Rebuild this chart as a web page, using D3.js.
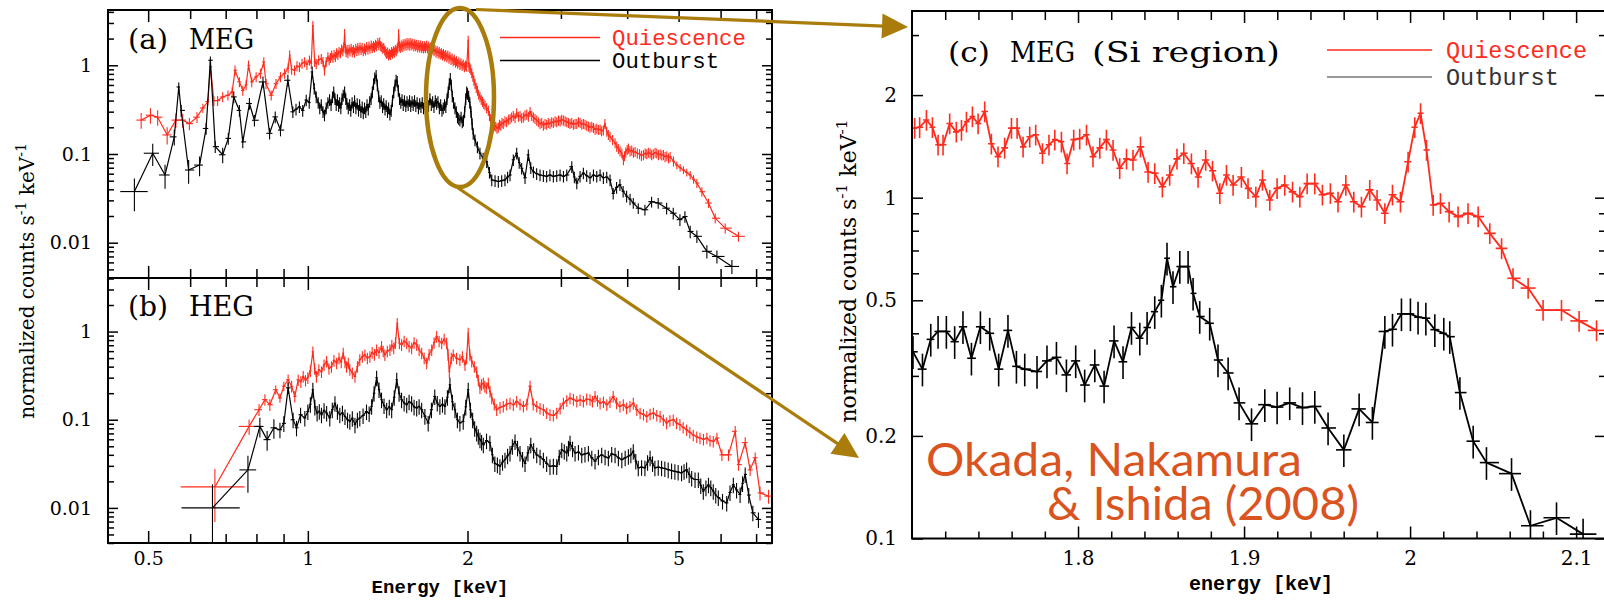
<!DOCTYPE html>
<html><head><meta charset="utf-8">
<script src="https://cdn.jsdelivr.net/npm/d3@7"></script>
<style>body{margin:0;background:#fff} svg{display:block}</style>
</head><body>
<svg id="fig" width="1604" height="600"></svg>
<script>
// Spectra: [energy keV, normalized counts s^-1 keV^-1, optional fractional error, optional bin half-width keV]
const megQuies = [[0.485,0.241,0.2],[0.505,0.274,0.2],[0.521,0.26,0.2],[0.543,0.164,0.22],[0.564,0.241,0.18],[0.581,0.241,0.18],[0.598,0.22,0.16],[0.618,0.26,0.14],[0.634,0.33,0.12],[0.648,0.39,0.1],[0.655,0.96,0.1],[0.665,0.40],[0.676,0.40],[0.691,0.44],[0.707,0.46],[0.72,0.50],[0.729,0.88],[0.743,0.65],[0.754,0.52],[0.765,0.60],[0.773,1.0],[0.784,0.65],[0.799,0.74],[0.814,0.81],[0.826,1.09],[0.834,0.62],[0.853,0.46],[0.871,0.62],[0.888,0.74],[0.904,0.81],[0.918,0.93],[0.924,1.30],[0.932,0.90],[0.944,0.88],[0.954,0.98],[0.964,0.96],[0.975,1.05],[0.986,1.09],[0.996,1.02],[1.007,1.14],[1.015,1.05],[1.022,2.8],[1.03,1.1],[1.037,1.04],[1.048,1.15],[1.06,1.19],[1.068,1.1],[1.075,0.88],[1.083,1.1],[1.091,1.24],[1.097,1.15],[1.103,1.22],[1.109,1.3],[1.115,1.22],[1.121,1.32],[1.127,1.25],[1.133,1.38],[1.139,1.32],[1.145,1.42],[1.152,1.38],[1.158,1.52],[1.164,1.45],[1.169,1.6],[1.173,2.27],[1.177,1.55],[1.181,1.42],[1.186,1.5],[1.19,1.38],[1.196,1.52],[1.201,1.44],[1.207,1.55],[1.213,1.42],[1.219,1.5],[1.225,1.4],[1.231,1.55],[1.237,1.46],[1.242,1.58],[1.248,1.48],[1.254,1.6],[1.26,1.5],[1.266,1.58],[1.272,1.45],[1.279,1.55],[1.285,1.48],[1.291,1.62],[1.298,1.52],[1.304,1.64],[1.31,1.55],[1.317,1.68],[1.323,1.58],[1.33,1.66],[1.336,1.6],[1.342,1.72],[1.348,1.65],[1.355,1.8],[1.361,1.7],[1.366,1.82],[1.372,1.66],[1.378,1.62],[1.384,1.55],[1.39,1.58],[1.396,1.48],[1.402,1.42],[1.408,1.35],[1.414,1.4],[1.42,1.3],[1.426,1.36],[1.432,1.32],[1.438,1.42],[1.444,1.36],[1.45,1.45],[1.456,1.4],[1.462,1.5],[1.468,1.45],[1.474,1.55],[1.479,1.6],[1.483,2.27],[1.488,1.65],[1.494,1.58],[1.5,1.68],[1.506,1.62],[1.512,1.74],[1.518,1.66],[1.525,1.76],[1.531,1.68],[1.538,1.8],[1.544,1.7],[1.551,1.78],[1.557,1.68],[1.564,1.8],[1.57,1.7],[1.577,1.76],[1.584,1.64],[1.59,1.74],[1.597,1.66],[1.604,1.72],[1.611,1.6],[1.618,1.7],[1.625,1.6],[1.632,1.68],[1.639,1.58],[1.646,1.66],[1.653,1.56],[1.66,1.65],[1.667,1.58],[1.675,1.68],[1.682,1.56],[1.69,1.64],[1.697,1.55],[1.705,1.6],[1.713,1.5],[1.721,1.55],[1.729,1.45],[1.737,1.5],[1.745,1.4],[1.753,1.46],[1.761,1.37],[1.769,1.42],[1.777,1.34],[1.786,1.38],[1.794,1.3],[1.802,1.35],[1.811,1.27],[1.819,1.32],[1.828,1.24],[1.836,1.3],[1.845,1.2],[1.853,1.26],[1.862,1.16],[1.871,1.2],[1.88,1.12],[1.889,1.16],[1.898,1.08],[1.907,1.12],[1.916,1.05],[1.926,1.09],[1.935,1.02],[1.944,1.06],[1.954,0.99],[1.963,1.03],[1.973,0.96],[1.983,1.0],[1.993,0.97],[2.006,1.91],[2.012,0.97],[2.02,0.94],[2.028,0.9],[2.037,0.82],[2.047,0.75],[2.056,0.68],[2.066,0.62],[2.077,0.56],[2.088,0.52],[2.099,0.47],[2.111,0.44],[2.123,0.41],[2.135,0.39],[2.146,0.37],[2.158,0.355],[2.173,0.33],[2.189,0.31],[2.2,0.27],[2.212,0.25],[2.224,0.22],[2.236,0.20],[2.249,0.21],[2.261,0.205],[2.273,0.195],[2.286,0.20],[2.298,0.215],[2.311,0.21],[2.323,0.225],[2.336,0.22],[2.353,0.235],[2.37,0.23],[2.388,0.245],[2.405,0.25],[2.422,0.26],[2.44,0.27],[2.458,0.255],[2.476,0.29],[2.494,0.265],[2.512,0.27],[2.53,0.255],[2.549,0.26],[2.567,0.275],[2.586,0.28],[2.605,0.265],[2.624,0.30],[2.643,0.27],[2.662,0.26],[2.681,0.25],[2.701,0.24],[2.72,0.23],[2.74,0.22],[2.76,0.225],[2.78,0.21],[2.8,0.22],[2.82,0.215],[2.84,0.225],[2.861,0.22],[2.882,0.23],[2.903,0.225],[2.925,0.235],[2.946,0.23],[2.968,0.24],[2.989,0.235],[3.01,0.245],[3.032,0.24],[3.055,0.235],[3.077,0.23],[3.099,0.225],[3.121,0.22],[3.144,0.225],[3.167,0.215],[3.19,0.22],[3.214,0.22],[3.237,0.23],[3.26,0.225],[3.284,0.215],[3.307,0.22],[3.331,0.215],[3.355,0.21],[3.38,0.205],[3.404,0.20],[3.43,0.205],[3.455,0.198],[3.48,0.19],[3.505,0.194],[3.53,0.188],[3.556,0.19],[3.58,0.182],[3.607,0.186],[3.631,0.22],[3.66,0.18],[3.686,0.165],[3.713,0.157],[3.754,0.145],[3.795,0.133],[3.822,0.122],[3.85,0.115],[3.878,0.108],[3.908,0.102],[3.935,0.086],[3.955,0.095],[3.975,0.105],[4.0,0.112],[4.021,0.116],[4.05,0.108],[4.08,0.11],[4.11,0.104],[4.14,0.106],[4.18,0.102],[4.22,0.1],[4.255,0.096],[4.292,0.098],[4.325,0.102],[4.355,0.1],[4.385,0.104],[4.418,0.102],[4.448,0.098],[4.48,0.1],[4.515,0.104],[4.548,0.102],[4.58,0.098],[4.615,0.1],[4.648,0.097],[4.681,0.098],[4.715,0.093],[4.75,0.095],[4.785,0.09],[4.819,0.093],[4.89,0.083],[4.962,0.075,0.1],[5.034,0.07,0.1],[5.107,0.066,0.1],[5.18,0.062,0.1],[5.258,0.058,0.11],[5.335,0.052,0.11],[5.413,0.047,0.12],[5.532,0.0376,0.12],[5.693,0.028,0.12],[5.861,0.0189,0.13],[6.121,0.0146,0.13],[6.484,0.0118,0.13]];

const megOut = [[0.471,0.0377,0.4,0.028],[0.51,0.102,0.28],[0.538,0.058,0.3],[0.56,0.156,0.2],[0.571,0.57,0.12],[0.577,0.31,0.15],[0.596,0.066,0.3],[0.625,0.075,0.25],[0.643,0.194,0.15],[0.655,1.14,0.1],[0.669,0.121,0.15],[0.691,0.098,0.2],[0.708,0.15,0.15],[0.725,0.44],[0.743,0.31],[0.754,0.137,0.15],[0.776,0.371],[0.793,0.24],[0.823,0.649],[0.847,0.171],[0.868,0.262],[0.888,0.186],[0.917,0.678],[0.937,0.299],[0.95,0.32],[0.964,0.34],[0.978,0.31],[0.993,0.406],[1.006,0.38],[1.019,0.841],[1.028,0.55],[1.037,0.44],[1.046,0.38],[1.053,0.33],[1.06,0.36],[1.068,0.3],[1.075,0.275],[1.083,0.33],[1.091,0.38],[1.099,0.41],[1.106,0.36],[1.113,0.44],[1.119,0.5],[1.125,0.42],[1.131,0.36],[1.137,0.41],[1.143,0.35],[1.148,0.38],[1.154,0.33],[1.16,0.42],[1.166,0.46],[1.173,0.501],[1.179,0.42],[1.185,0.37],[1.192,0.33],[1.199,0.36],[1.205,0.31],[1.212,0.38],[1.219,0.34],[1.225,0.40],[1.232,0.33],[1.239,0.37],[1.246,0.31],[1.252,0.36],[1.259,0.3],[1.266,0.34],[1.272,0.29],[1.279,0.33],[1.286,0.3],[1.293,0.36],[1.3,0.32],[1.308,0.39],[1.316,0.42],[1.323,0.5],[1.33,0.62],[1.337,0.72],[1.345,0.77],[1.352,0.6],[1.36,0.45],[1.367,0.38],[1.375,0.40],[1.383,0.34],[1.39,0.37],[1.398,0.32],[1.405,0.35],[1.413,0.3],[1.42,0.33],[1.428,0.28],[1.436,0.31],[1.444,0.4],[1.452,0.5],[1.46,0.6],[1.467,0.68],[1.474,0.66],[1.481,0.52],[1.489,0.42],[1.497,0.38],[1.505,0.41],[1.513,0.36],[1.521,0.4],[1.53,0.35],[1.538,0.39],[1.546,0.36],[1.555,0.4],[1.563,0.35],[1.572,0.39],[1.58,0.36],[1.589,0.4],[1.598,0.35],[1.607,0.38],[1.616,0.33],[1.625,0.37],[1.634,0.34],[1.643,0.38],[1.652,0.33],[1.661,0.37],[1.67,0.34],[1.68,0.38],[1.689,0.35],[1.699,0.42],[1.709,0.36],[1.719,0.39],[1.729,0.34],[1.739,0.4],[1.749,0.37],[1.759,0.39],[1.77,0.33],[1.78,0.36],[1.79,0.31],[1.8,0.33],[1.81,0.36],[1.82,0.34],[1.83,0.42],[1.839,0.5],[1.848,0.62],[1.856,0.71],[1.864,0.6],[1.872,0.45],[1.882,0.38],[1.894,0.33],[1.905,0.3],[1.915,0.26],[1.925,0.25],[1.935,0.24],[1.945,0.26],[1.955,0.23],[1.965,0.24],[1.975,0.3],[1.985,0.42],[1.993,0.5],[2.0,0.48],[2.01,0.45],[2.02,0.38],[2.03,0.3],[2.04,0.22],[2.05,0.17],[2.066,0.144],[2.088,0.12],[2.111,0.102],[2.14,0.09],[2.174,0.082],[2.2,0.062],[2.222,0.051],[2.254,0.05],[2.286,0.049],[2.32,0.05],[2.353,0.051],[2.38,0.055],[2.405,0.058],[2.44,0.086],[2.476,0.102],[2.503,0.08],[2.53,0.069],[2.567,0.054],[2.604,0.098],[2.632,0.07],[2.662,0.063],[2.7,0.06],[2.74,0.058],[2.78,0.057],[2.82,0.056],[2.86,0.058],[2.903,0.056],[2.946,0.057],[2.989,0.058],[3.033,0.056],[3.077,0.058],[3.145,0.072],[3.18,0.055],[3.214,0.047],[3.26,0.056],[3.307,0.061],[3.355,0.057],[3.404,0.054],[3.455,0.058],[3.505,0.056],[3.556,0.058],[3.607,0.054],[3.66,0.055],[3.713,0.051],[3.764,0.036],[3.82,0.042],[3.876,0.045],[3.93,0.038],[3.99,0.0335],[4.05,0.031],[4.107,0.028,0.14],[4.197,0.0245,0.14],[4.32,0.0235,0.14],[4.447,0.029,0.14],[4.576,0.028,0.14],[4.747,0.0245,0.15],[4.885,0.0215,0.15],[5.029,0.0182,0.15],[5.139,0.0197,0.15],[5.258,0.0134,0.16],[5.413,0.0118,0.16],[5.653,0.0080,0.17],[5.905,0.0070,0.17],[6.302,0.0054,0.18]];

const hegQuies = [[0.668,0.0173,0.6,0.092],[0.775,0.084,0.2,0.034],[0.809,0.130,0.15],[0.83,0.169,0.15],[0.848,0.148,0.15],[0.87,0.219,0.12],[0.886,0.177,0.12],[0.901,0.24,0.12],[0.918,0.284],[0.932,0.24],[0.945,0.184],[0.959,0.284],[0.97,0.27],[0.98,0.31],[0.99,0.28],[1.0,0.30],[1.011,0.36],[1.022,0.59],[1.03,0.38],[1.038,0.31],[1.049,0.37],[1.061,0.35],[1.073,0.42],[1.085,0.46],[1.096,0.38],[1.108,0.40],[1.12,0.47],[1.133,0.44],[1.145,0.5],[1.156,0.45],[1.166,0.57],[1.175,0.45],[1.183,0.40],[1.192,0.44],[1.2,0.37],[1.213,0.34],[1.227,0.31],[1.24,0.4],[1.253,0.48],[1.267,0.52],[1.281,0.545],[1.295,0.5],[1.309,0.52],[1.322,0.58],[1.335,0.55],[1.348,0.62],[1.362,0.58],[1.377,0.68],[1.387,0.6],[1.397,0.545],[1.412,0.6],[1.428,0.62],[1.44,0.7],[1.452,0.65],[1.463,0.75],[1.474,1.24],[1.488,0.74],[1.502,0.71],[1.519,0.78],[1.536,0.74],[1.552,0.68],[1.569,0.65],[1.586,0.75],[1.604,0.71],[1.621,0.62],[1.639,0.57],[1.657,0.5],[1.675,0.44],[1.693,0.55],[1.712,0.62],[1.73,0.75],[1.749,0.88],[1.768,0.78],[1.788,0.74],[1.807,0.82],[1.827,0.74],[1.838,0.55],[1.848,0.35],[1.864,0.5],[1.88,0.545],[1.907,0.5],[1.935,0.48],[1.956,0.52],[1.978,0.42],[1.992,0.5],[2.006,0.96],[2.02,0.55],[2.037,0.46],[2.06,0.4],[2.081,0.35],[2.096,0.28],[2.111,0.23],[2.126,0.25],[2.142,0.26],[2.156,0.24],[2.17,0.23],[2.189,0.26],[2.205,0.21],[2.222,0.176],[2.246,0.15],[2.27,0.130],[2.303,0.138],[2.336,0.142],[2.37,0.15],[2.405,0.154],[2.44,0.148],[2.476,0.162],[2.512,0.15],[2.549,0.142],[2.587,0.15],[2.624,0.24],[2.66,0.15],[2.701,0.142],[2.74,0.135],[2.78,0.130],[2.82,0.12],[2.861,0.114],[2.903,0.112],[2.946,0.119],[2.99,0.135],[3.032,0.154],[3.077,0.165],[3.121,0.176],[3.167,0.17],[3.214,0.162],[3.26,0.168],[3.307,0.162],[3.355,0.172],[3.404,0.169],[3.44,0.162],[3.479,0.184],[3.516,0.165],[3.556,0.154],[3.608,0.16],[3.661,0.148],[3.712,0.16],[3.764,0.184],[3.82,0.155],[3.876,0.142],[3.933,0.148],[3.99,0.136],[4.048,0.142],[4.107,0.154],[4.17,0.13],[4.231,0.119],[4.293,0.115],[4.355,0.109],[4.418,0.116],[4.482,0.119],[4.548,0.112],[4.614,0.109],[4.68,0.1],[4.747,0.092],[4.815,0.098],[4.885,0.100],[4.957,0.092],[5.029,0.088],[5.1,0.082],[5.177,0.077],[5.25,0.072],[5.329,0.067],[5.41,0.064],[5.486,0.062],[5.57,0.06],[5.653,0.062],[5.73,0.058],[5.812,0.057],[5.905,0.062],[6.034,0.040],[6.209,0.040],[6.393,0.074],[6.484,0.031],[6.676,0.055],[6.82,0.027],[6.972,0.037],[7.12,0.0148,0.18],[7.388,0.0136,0.18]];

const hegOut = [[0.661,0.010,0.85,0.083],[0.771,0.027,0.45,0.028],[0.812,0.084,0.25],[0.838,0.0595,0.25],[0.863,0.081,0.25],[0.886,0.077,0.2],[0.901,0.091,0.2],[0.918,0.23,0.15],[0.938,0.10,0.2],[0.952,0.081,0.2],[0.969,0.114],[0.987,0.105],[1.0,0.124],[1.011,0.15],[1.022,0.219],[1.031,0.14],[1.041,0.119],[1.051,0.125],[1.061,0.114],[1.073,0.128],[1.085,0.119],[1.1,0.105],[1.112,0.13],[1.125,0.154],[1.137,0.125],[1.149,0.114],[1.162,0.12],[1.175,0.109],[1.188,0.1],[1.2,0.096],[1.213,0.104],[1.227,0.088],[1.24,0.1],[1.253,0.105],[1.271,0.112],[1.29,0.124],[1.305,0.118],[1.319,0.142],[1.333,0.2],[1.348,0.30],[1.362,0.22],[1.377,0.169],[1.392,0.145],[1.408,0.130],[1.424,0.14],[1.439,0.130],[1.455,0.18],[1.471,0.284],[1.486,0.2],[1.502,0.169],[1.519,0.155],[1.536,0.148],[1.552,0.16],[1.569,0.154],[1.586,0.14],[1.604,0.136],[1.621,0.142],[1.639,0.130],[1.662,0.11],[1.686,0.092],[1.71,0.13],[1.735,0.184],[1.754,0.155],[1.774,0.142],[1.794,0.15],[1.813,0.142],[1.833,0.18],[1.853,0.249],[1.873,0.16],[1.894,0.130],[1.914,0.1],[1.935,0.092],[1.963,0.096],[1.985,0.14],[2.006,0.219],[2.025,0.13],[2.045,0.10],[2.063,0.08],[2.081,0.071],[2.096,0.065],[2.111,0.0595],[2.126,0.056],[2.142,0.052],[2.172,0.058],[2.204,0.055],[2.228,0.04],[2.252,0.032],[2.277,0.031],[2.302,0.0296],[2.328,0.033],[2.353,0.0353],[2.38,0.039],[2.405,0.042],[2.43,0.05],[2.458,0.0568],[2.485,0.048],[2.512,0.042],[2.54,0.036],[2.567,0.032],[2.6,0.042],[2.632,0.052],[2.665,0.045],[2.701,0.040],[2.74,0.038],[2.78,0.0353],[2.82,0.032],[2.861,0.0296],[2.903,0.03],[2.946,0.0296],[2.978,0.038],[3.011,0.0458],[3.044,0.044],[3.077,0.042],[3.1,0.048],[3.121,0.055],[3.155,0.047],[3.19,0.042],[3.237,0.043],[3.284,0.040],[3.33,0.041],[3.38,0.042],[3.43,0.037],[3.479,0.034],[3.53,0.038],[3.581,0.040],[3.634,0.038],[3.686,0.037],[3.74,0.041],[3.795,0.040],[3.85,0.037],[3.908,0.0353],[3.965,0.037],[4.021,0.0385],[4.064,0.04],[4.107,0.044],[4.152,0.034],[4.197,0.0285],[4.258,0.029],[4.32,0.0285],[4.37,0.033],[4.418,0.037],[4.465,0.032],[4.511,0.0285],[4.577,0.029],[4.644,0.0285],[4.71,0.028],[4.779,0.0272],[4.85,0.0265],[4.92,0.026],[4.99,0.0255],[5.065,0.025],[5.12,0.026],[5.177,0.0272],[5.235,0.024],[5.292,0.0218],[5.37,0.021],[5.447,0.021],[5.505,0.018],[5.566,0.0155],[5.63,0.017],[5.693,0.0183],[5.75,0.017],[5.812,0.0155],[5.875,0.014],[5.941,0.0131],[6.05,0.012],[6.161,0.0114],[6.25,0.015],[6.341,0.0183],[6.43,0.016],[6.53,0.0142],[6.6,0.019],[6.676,0.024],[6.78,0.014],[6.901,0.0088,0.2],[7.071,0.0074,0.2]];

// Si region, MEG
const siQuies = [[1.7016,1.60],[1.7046,1.61],[1.7087,1.69],[1.7123,1.61],[1.7157,1.43],[1.7187,1.43],[1.7227,1.65],[1.7267,1.56],[1.7298,1.58],[1.7328,1.67],[1.7364,1.73],[1.7398,1.65],[1.7438,1.79],[1.7478,1.44],[1.7518,1.32],[1.7558,1.40],[1.7599,1.60],[1.7633,1.60],[1.7669,1.41],[1.7709,1.51],[1.7745,1.53],[1.7786,1.35],[1.7825,1.43],[1.786,1.48],[1.79,1.46],[1.7934,1.26],[1.7974,1.48],[1.801,1.49],[1.8051,1.53],[1.809,1.32],[1.8131,1.40],[1.8171,1.48],[1.8211,1.38],[1.8251,1.22],[1.8292,1.30],[1.8331,1.29],[1.8376,1.41],[1.8422,1.19],[1.8462,1.18],[1.8508,1.077],[1.8552,1.166],[1.8596,1.30],[1.8637,1.35],[1.8683,1.26],[1.8723,1.15],[1.8769,1.29],[1.881,1.20],[1.8854,1.03],[1.8894,1.166],[1.8934,1.09],[1.8984,1.15],[1.9024,1.065],[1.9071,1.007],[1.9111,1.127],[1.9155,0.985],[1.9199,1.065],[1.9245,1.09],[1.9292,1.04],[1.9336,1.007],[1.938,1.10],[1.9426,1.10],[1.9472,1.02],[1.952,1.03],[1.9566,0.973],[1.9613,1.09],[1.9661,0.973],[1.9707,0.941],[1.9757,1.054],[1.9801,0.985],[1.9848,0.90],[1.9894,1.02],[1.9942,0.973],[1.9988,1.275],[2.0028,1.61],[2.0063,1.77],[2.0099,1.38],[2.0139,0.952],[2.0183,0.963],[2.0235,0.91],[2.0289,0.88],[2.0349,0.90],[2.041,0.88],[2.048,0.786],[2.0551,0.71],[2.062,0.58],[2.0711,0.543],[2.0801,0.468],[2.0912,0.468],[2.1018,0.435],[2.1123,0.408]];

const siOut = [[1.7006,0.353],[1.7063,0.314],[1.7113,0.384],[1.7157,0.405],[1.7207,0.405],[1.7257,0.378],[1.7307,0.418],[1.7358,0.338],[1.7412,0.418],[1.7468,0.40],[1.7522,0.314],[1.7578,0.408],[1.7629,0.32],[1.7679,0.314],[1.7753,0.309],[1.7813,0.332],[1.787,0.34],[1.793,0.302],[1.7986,0.332],[1.804,0.282],[1.8101,0.323],[1.8157,0.28],[1.8217,0.38],[1.8271,0.33],[1.8322,0.416],[1.8372,0.387],[1.8416,0.416],[1.8462,0.463],[1.8502,0.50],[1.8536,0.664],[1.8572,0.548],[1.8613,0.628],[1.8663,0.628],[1.8693,0.524],[1.8733,0.448],[1.8793,0.428],[1.8843,0.334],[1.8904,0.306],[1.897,0.25],[1.9045,0.217],[1.9125,0.247],[1.9199,0.243],[1.9275,0.25],[1.9352,0.242],[1.9426,0.244],[1.9506,0.211],[1.9601,0.182],[1.9693,0.24],[1.9773,0.219],[1.9848,0.405],[1.9894,0.411],[1.9948,0.456],[2.0002,0.456],[2.0048,0.446],[2.0095,0.443],[2.0149,0.41],[2.0203,0.40],[2.0239,0.391],[2.03,0.268],[2.038,0.193],[2.046,0.167],[2.0611,0.155],[2.0725,0.109],[2.0882,0.115],[2.1042,0.103]];

// Axis ticks
const abXMajor = [0.5, 1, 2, 5];
const abXMinor = [0.6, 0.7, 0.8, 0.9, 3, 4, 6, 7];
const abYMajor = [0.01, 0.1, 1];
const siXMajor = [1.8, 1.9, 2, 2.1];
const siXMinor = [1.72, 1.74, 1.76, 1.78, 1.82, 1.84, 1.86, 1.88, 1.92, 1.94, 1.96, 1.98, 2.02, 2.04, 2.06, 2.08, 2.12];
const siYMajor = [0.1, 0.2, 0.5, 1, 2];
const seriesNames = ["Quiescence", "Outburst"];

const RED = "#ff2b1c", GOLD = "#a97c0b", CITE = "#d9541e";
const SERIF = "DejaVu Serif", MONO = "Liberation Mono";

const svg = d3.select("#fig");

// Scales
const xAB = d3.scaleLog().domain([0.42, 7.5]).range([108, 772]);
const yA = d3.scaleLog().domain([0.004, 4.2]).range([278, 10]);
const yB = d3.scaleLog().domain([0.004, 4.05]).range([543, 278]);
const xC = d3.scaleLinear().domain([1.7, 2.118]).range([912, 1606]);
const yC = d3.scaleLog().domain([0.1, 3.53]).range([538.5, 11]);

const defs = svg.append("defs");
function clip(id, x0, y0, x1, y1) {
  defs.append("clipPath").attr("id", id).append("rect")
    .attr("x", x0).attr("y", y0).attr("width", x1 - x0).attr("height", y1 - y0);
  return `url(#${id})`;
}

function drawSeries(g, pts, x, y, color, defErr, lw, ew) {
  const n = pts.length;
  const rows = pts.map((p, i) => {
    const E = p[0], v = p[1], f = p[2] != null ? p[2] : defErr;
    let lo, hi;
    if (p[3] != null) { lo = E - p[3]; hi = E + p[3]; }
    else {
      const prev = i > 0 ? pts[i - 1][0] : null, next = i < n - 1 ? pts[i + 1][0] : null;
      const dl = prev != null ? (E - prev) / 2 : (next - E) / 2;
      const dr = next != null ? (next - E) / 2 : (E - prev) / 2;
      lo = E - dl; hi = E + dr;
    }
    return { E, v, f, lo, hi };
  });
  g.append("path").datum(rows)
    .attr("d", d3.line().x(d => x(d.E)).y(d => y(d.v)))
    .attr("fill", "none").attr("stroke", color).attr("stroke-width", lw)
    .attr("stroke-linejoin", "round");
  const eb = g.append("g").attr("stroke", color).attr("stroke-width", ew);
  eb.selectAll("line.h").data(rows).join("line").attr("class", "h")
    .attr("x1", d => x(d.lo)).attr("x2", d => x(d.hi))
    .attr("y1", d => y(d.v)).attr("y2", d => y(d.v));
  eb.selectAll("line.v").data(rows).join("line").attr("class", "v")
    .attr("x1", d => x(d.E)).attr("x2", d => x(d.E))
    .attr("y1", d => y(d.v * (1 + d.f))).attr("y2", d => y(Math.max(d.v * (1 - d.f), 1e-5)));
}

function axis(gen, scale, values, len, pos, labelled, fmt, pad, fsize, font) {
  const a = gen(scale).tickValues(values).tickSize(-len).tickPadding(pad)
    .tickFormat(labelled ? fmt : () => "");
  const g = svg.append("g").attr("transform", pos).call(a);
  g.select(".domain").remove();
  g.selectAll("line").attr("stroke", "#000").attr("stroke-width", 1.5);
  g.attr("font-family", font || SERIF).attr("font-size", fsize || 19);
  g.selectAll("text").attr("fill", "#000");
  return g;
}

const fmtAB = d => d < 1 ? String(d) : d3.format("d")(d);
const logMinor = (s, majors) => s.ticks().filter(t => !majors.some(m => Math.abs(m - t) / m < 1e-6));

// ---- Panels (a) and (b) ----
const gA = svg.append("g").attr("clip-path", clip("clipA", 108, 10, 772, 278));
drawSeries(gA, megQuies, xAB, yA, RED, 0.13, 1.2, 1.1);
drawSeries(gA, megOut, xAB, yA, "#000", 0.15, 1.2, 1.1);
const gB = svg.append("g").attr("clip-path", clip("clipB", 108, 278, 772, 543));
drawSeries(gB, hegQuies, xAB, yB, RED, 0.15, 1.2, 1.1);
drawSeries(gB, hegOut, xAB, yB, "#000", 0.2, 1.2, 1.1);

[[yA, 10, 278], [yB, 278, 543]].forEach(([ys, top, bot], k) => {
  const yMinor = logMinor(ys, abYMajor);
  axis(d3.axisLeft, ys, abYMajor, 10, "translate(108,0)", true, fmtAB, 16);
  axis(d3.axisLeft, ys, yMinor, 6, "translate(108,0)", false);
  axis(d3.axisRight, ys, abYMajor, 10, "translate(772,0)", false);
  axis(d3.axisRight, ys, yMinor, 6, "translate(772,0)", false);
  axis(d3.axisTop, xAB, abXMajor, 12, `translate(0,${top})`, false);
  axis(d3.axisTop, xAB, abXMinor, 9, `translate(0,${top})`, false);
  axis(d3.axisBottom, xAB, abXMajor, 12, `translate(0,${bot})`, k === 1, fmtAB, 9);
  axis(d3.axisBottom, xAB, abXMinor, 9, `translate(0,${bot})`, false);
});
svg.append("rect").attr("x", 108).attr("y", 10).attr("width", 664).attr("height", 533)
  .attr("fill", "none").attr("stroke", "#000").attr("stroke-width", 2);
svg.append("line").attr("x1", 108).attr("x2", 772).attr("y1", 278).attr("y2", 278)
  .attr("stroke", "#000").attr("stroke-width", 2);

// panel labels
function plabel(x, y, txt, len, size) {
  svg.append("text").attr("x", x).attr("y", y).attr("font-family", SERIF)
    .attr("font-size", size || 28).attr("textLength", len).attr("lengthAdjust", "spacingAndGlyphs").text(txt);
}
plabel(128, 49, "(a)", 40); plabel(189, 49, "MEG", 65);
plabel(128, 316, "(b)", 40); plabel(189, 316, "HEG", 65);

// legend (a)
function legend(x0, x1, tx, ys, size, lws, cols) {
  seriesNames.forEach((name, i) => {
    svg.append("line").attr("x1", x0).attr("x2", x1).attr("y1", ys[i][0]).attr("y2", ys[i][0])
      .attr("stroke", cols[i]).attr("stroke-width", lws[i]);
    svg.append("text").attr("x", tx).attr("y", ys[i][1]).attr("font-family", MONO)
      .attr("font-size", size).attr("fill", cols[i]).text(name);
  });
}
legend(500, 600, 612, [[37.5, 45], [60.5, 68]], 22.3, [1.4, 1.4], [RED, "#000"]);

// axis titles (a)/(b)
function ytitle(x, y, size) {
  const t = svg.append("text").attr("transform", `translate(${x},${y}) rotate(-90)`)
    .attr("text-anchor", "middle").attr("font-family", SERIF).attr("font-size", size);
  t.append("tspan").text("normalized counts s");
  t.append("tspan").attr("dy", -size * 0.42).attr("font-size", size * 0.7).text("-1");
  t.append("tspan").attr("dy", size * 0.42).text(" keV");
  t.append("tspan").attr("dy", -size * 0.42).attr("font-size", size * 0.7).text("-1");
}
ytitle(34, 281, 20);
svg.append("text").attr("x", 440).attr("y", 593).attr("text-anchor", "middle")
  .attr("font-family", MONO).attr("font-size", 19).attr("font-weight", "bold").text("Energy [keV]");

// ---- Panel (c) ----
const gC = svg.append("g").attr("clip-path", clip("clipC", 912, 11, 1606, 538.5));
drawSeries(gC, siQuies, xC, yC, RED, 0.07, 1.8, 1.6);
drawSeries(gC, siOut, xC, yC, "#000", 0.11, 1.8, 1.6);

const fmtC = d => d === 2 ? "2" : d.toFixed(1);
const fmtCY = d => String(d);
const siYMinor = logMinor(yC, siYMajor);
axis(d3.axisLeft, yC, siYMajor, 11, "translate(912,0)", true, fmtCY, 15, 20);
axis(d3.axisLeft, yC, siYMinor, 7, "translate(912,0)", false);
axis(d3.axisRight, yC, siYMajor, 11, "translate(1606,0)", false);
axis(d3.axisRight, yC, siYMinor, 7, "translate(1606,0)", false);
axis(d3.axisBottom, xC, siXMajor, 12, "translate(0,538.5)", true, fmtC, 12, 20);
axis(d3.axisBottom, xC, siXMinor, 7, "translate(0,538.5)", false);
axis(d3.axisTop, xC, siXMajor, 12, "translate(0,11)", false);
axis(d3.axisTop, xC, siXMinor, 9, "translate(0,11)", false);
svg.append("rect").attr("x", 912).attr("y", 11).attr("width", 694).attr("height", 527.5)
  .attr("fill", "none").attr("stroke", "#000").attr("stroke-width", 2);

plabel(948, 62, "(c)", 42); plabel(1010, 62, "MEG", 65); plabel(1092, 62, "(Si region)", 188);
legend(1327, 1432, 1446, [[50, 58], [77, 85]], 23.5, [1.6, 1.0], [RED, "#333"]);
ytitle(856, 271, 22);
svg.append("text").attr("x", 1261).attr("y", 590).attr("text-anchor", "middle")
  .attr("font-family", MONO).attr("font-size", 20).attr("font-weight", "bold").text("energy [keV]");

// citation
svg.append("text").attr("x", 926).attr("y", 476).attr("font-family", "Lato")
  .attr("font-size", 46).attr("textLength", 376).attr("lengthAdjust", "spacingAndGlyphs")
  .attr("fill", CITE).text("Okada, Nakamura");
svg.append("text").attr("x", 1047).attr("y", 520).attr("font-family", "Lato")
  .attr("font-size", 46).attr("textLength", 312).attr("lengthAdjust", "spacingAndGlyphs")
  .attr("fill", CITE).text("& Ishida (2008)");

// ---- Zoom annotation: ellipse round the Si region of (a), arrows to (c) ----
const ann = svg.append("g").attr("fill", "none").attr("stroke", GOLD);
ann.append("ellipse").attr("cx", 460).attr("cy", 97.5).attr("rx", 34).attr("ry", 89.5).attr("stroke-width", 4.5);
function arrow(x0, y0, x1, y1) {
  const dx = x1 - x0, dy = y1 - y0, L = Math.hypot(dx, dy), ux = dx / L, uy = dy / L;
  const hl = 26, hw = 12.5, bx = x1 - ux * hl, by = y1 - uy * hl;
  ann.append("line").attr("x1", x0).attr("y1", y0).attr("x2", bx + ux * 2).attr("y2", by + uy * 2).attr("stroke-width", 3.2);
  ann.append("path").attr("stroke", "none").attr("fill", GOLD)
    .attr("d", `M${x1},${y1}L${bx - uy * hw},${by + ux * hw}L${bx + uy * hw},${by - ux * hw}Z`);
}
arrow(476, 9.5, 908, 27);
arrow(458, 188, 859, 458);
</script>
</body></html>
